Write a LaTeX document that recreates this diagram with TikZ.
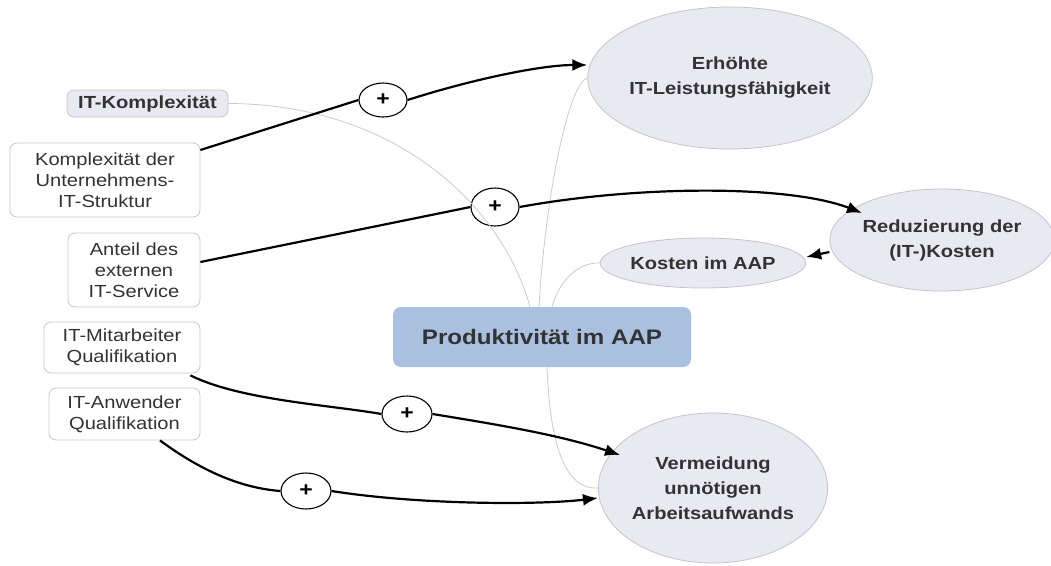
\documentclass[tikz,border=0pt]{standalone}
\usepackage{fontspec}
\setmainfont{Liberation Sans}[FakeStretch=1.15]
\usetikzlibrary{shapes.geometric,arrows.meta}
\definecolor{txt}{HTML}{333333}
\definecolor{boxline}{HTML}{C8C8C8}
\definecolor{ellfill}{HTML}{E9E9F1}
\definecolor{ellline}{HTML}{C4C4CC}
\definecolor{prodfill}{HTML}{A9C0E0}
\definecolor{thin}{HTML}{CACACA}
\tikzset{
  lbox/.style={draw=boxline, line width=0.8pt, fill=white, rounded corners=7pt, align=center, inner sep=0pt,
    text=txt, font=\fontsize{17.5}{21}\selectfont},
  kbox/.style={lbox, fill=ellfill, draw=ellline, font=\fontsize{17.5}{21}\selectfont\bfseries},
  ell/.style={ellipse, draw=ellline, line width=0.8pt, fill=ellfill, align=center, inner sep=0pt,
    text=txt, font=\fontsize{17.5}{25}\selectfont\bfseries},
  plusnode/.style={ellipse, draw=black, line width=1.1pt, fill=white, inner sep=0pt,
    font=\fontsize{20}{22}\selectfont\bfseries},
  prod/.style={rounded corners=8pt, fill=prodfill, inner sep=0pt, text=txt,
    font=\fontsize{21}{25}\selectfont\bfseries},
  causal/.style={draw=black, line width=2.2pt, -{Latex[length=15pt,width=12pt]}},
  causalseg/.style={draw=black, line width=2.2pt},
  mind/.style={draw=thin, line width=0.8pt},
}
\begin{document}
\begin{tikzpicture}[x=1pt,y=-1pt]
\useasboundingbox (0,0) rectangle (1051,565);

% left boxes
\node[kbox, minimum width=161pt, minimum height=27pt] (itk) at (147.5,103.5) {IT-Komplexität};
\node[lbox, minimum width=190pt, minimum height=74pt] (kdu) at (105,180) {Komplexität der\\Unternehmens-\\IT-Struktur};
\node[lbox, minimum width=132pt, minimum height=74pt] (ant) at (134,270) {Anteil des\\externen\\IT-Service};
\node[lbox, minimum width=156pt, minimum height=51pt] (mit) at (122,347.5) {IT-Mitarbeiter\\Qualifikation};
\node[lbox, minimum width=151pt, minimum height=52pt] (anw) at (124.5,414) {IT-Anwender\\Qualifikation};

% centre
\node[prod, minimum width=298pt, minimum height=60pt] (prd) at (542,337) {Produktivität im AAP};

% right ellipses
\node[ell, minimum width=246pt, minimum height=142pt] (erh) at (730,78) {Erhöhte\\IT-Leistungsfähigkeit};
\node[ell, minimum width=196pt, minimum height=102pt] (red) at (942,240) {Reduzierung der\\(IT-)Kosten};
\node[ell, minimum width=182pt, minimum height=50pt] (kos) at (703,263) {Kosten im AAP};
\node[ell, minimum width=210pt, minimum height=150pt] (ver) at (713,488) {Vermeidung\\unnötigen\\Arbeitsaufwands};

% plus nodes
\node[plusnode, minimum width=48pt, minimum height=34pt] (p1) at (383,100) {+};
\node[plusnode, minimum width=48pt, minimum height=38pt] (p2) at (495,207) {+};
\node[plusnode, minimum width=50pt, minimum height=36pt] (p3) at (407,414) {+};
\node[plusnode, minimum width=50pt, minimum height=36pt] (p4) at (306,491) {+};

% thin mind-map connectors
\draw[mind] (itk.east) .. controls (390,104) and (500,200) .. (prd.north -| 530,0);
\draw[mind] (erh.180) .. controls (568,84) and (545,200) .. (prd.north -| 539,0);
\draw[mind] (kos.west) .. controls (575,262) and (558,285) .. (prd.north -| 552,0);
\draw[mind] (prd.south -| 547,0) .. controls (550,445) and (565,490) .. (ver.west);

% causal connectors
\draw[causalseg] (kdu.north east |- 0,150) -- (p1.west);
\draw[causal] (p1.east) .. controls (470,80) and (540,65) .. (erh.west |- 0,65);
\draw[causalseg] (ant.east |- 0,262) -- (p2.west);
\draw[causal] (p2.east) .. controls (640,185) and (790,185) .. (862,213);
\draw[causalseg] (mit.south east) ++(-10,2) coordinate (m0) (m0) .. controls (240,400) and (330,405) .. (p3.west);
\draw[causal] (p3.east) .. controls (500,425) and (560,435) .. (620,455);
\draw[causalseg] (anw.south -| 160,0) .. controls (200,470) and (240,488) .. (p4.west);
\draw[causal] (p4.east) .. controls (420,505) and (540,505) .. (ver.west |- 0,498);
\draw[causal] (red.west |- 0,252) -- (kos.east |- 0,257);
\end{tikzpicture}
\end{document}
